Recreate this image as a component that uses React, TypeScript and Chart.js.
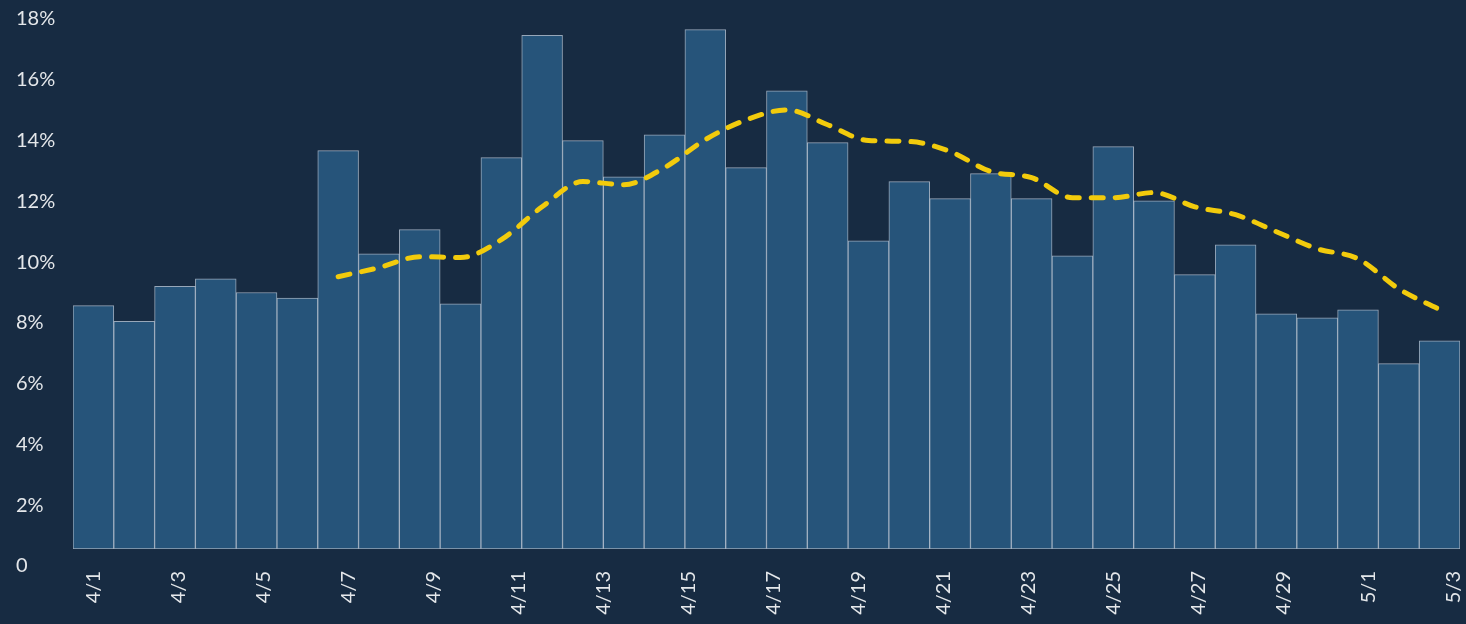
import { useEffect, useRef } from 'react';
import { Chart, registerables } from 'chart.js';

Chart.register(...registerables);

// Daily categories (one bar each)
const days: string[] = [
  '4/1', '4/2', '4/3', '4/4', '4/5', '4/6', '4/7', '4/8', '4/9', '4/10',
  '4/11', '4/12', '4/13', '4/14', '4/15', '4/16', '4/17', '4/18', '4/19', '4/20',
  '4/21', '4/22', '4/23', '4/24', '4/25', '4/26', '4/27', '4/28', '4/29', '4/30',
  '5/1', '5/2', '5/3', '5/4',
];

// Daily positivity rate (%)
const dailyRate: number[] = [
  8.01, 7.49, 8.64, 8.89, 8.44, 8.26, 13.11, 9.71, 10.51, 8.07,
  12.88, 16.9, 13.44, 12.25, 13.63, 17.09, 12.55, 15.08, 13.37, 10.14,
  12.09, 11.53, 12.35, 11.53, 9.65, 13.24, 11.46, 9.03, 10.01, 7.74,
  7.61, 7.87, 6.1, 6.85,
];

// 7-day average (%)
const sevenDayAvg: (number | null)[] = [
  null, null, null, null, null, null, 8.96, 9.26, 9.62, 9.59,
  10.18, 11.26, 12.09, 11.99, 12.55, 13.47, 14.12, 14.45, 13.96, 13.44,
  13.41, 13.08, 12.42, 12.22, 11.56, 11.56, 11.73, 11.26, 11.0, 10.44,
  9.88, 9.55, 8.56, 7.88,
];

// X tick labels (every other day) and their day index
const xTickLabels: string[] = [
  '4/1', '4/3', '4/5', '4/7', '4/9', '4/11', '4/13', '4/15', '4/17',
  '4/19', '4/21', '4/23', '4/25', '4/27', '4/29', '5/1', '5/3',
];
const xTickDay: number[] = [0, 2, 4, 6, 8, 10, 12, 14, 16, 18, 20, 22, 24, 26, 28, 30, 32];

// Y ticks (%)
const yTickValues: number[] = [0, 2, 4, 6, 8, 10, 12, 14, 16, 18];

const BG = '#172b42';
const TEXT = '#e4e7ea';
const FONT = { family: 'Lato', size: 20 };

export default function App() {
  const ref = useRef<HTMLCanvasElement | null>(null);

  useEffect(() => {
    if (!ref.current) return;
    const chart = new Chart(ref.current, {
      type: 'bar',
      data: {
        labels: days,
        datasets: [
          {
            type: 'line',
            data: sevenDayAvg,
            borderColor: '#f2cb0c',
            borderWidth: 5,
            borderDash: [12, 12],
            borderCapStyle: 'round',
            pointRadius: 0,
            cubicInterpolationMode: 'monotone',
            xAxisID: 'x',
            yAxisID: 'y',
            order: 0,
          } as any,
          {
            type: 'bar',
            data: dailyRate,
            backgroundColor: '#26547a',
            borderColor: 'rgba(195,210,225,0.75)',
            borderWidth: 1,
            borderSkipped: false,
            barPercentage: 1,
            categoryPercentage: 1,
            xAxisID: 'x',
            yAxisID: 'y',
            order: 1,
          } as any,
        ],
      },
      options: {
        animation: false,
        responsive: false,
        layout: { padding: { left: 16, top: 2, right: 6, bottom: 0 } },
        plugins: { legend: { display: false }, tooltip: { enabled: false } },
        scales: {
          x: {
            type: 'category',
            display: false,
            offset: true,
          },
          xd: {
            type: 'linear',
            position: 'bottom',
            offset: false,
            bounds: 'data',
            min: -0.494,
            max: 32.16,
            afterBuildTicks: (scale: any) => {
              scale.ticks = xTickDay.map((v) => ({ value: v }));
            },
            afterFit: (scale: any) => {
              scale.height = 75;
              scale.paddingLeft = 0;
              scale.paddingRight = 0;
            },
            ticks: {
              autoSkip: false,
              minRotation: 90,
              maxRotation: 90,
              padding: 22,
              color: TEXT,
              font: FONT,
              callback: (_v: any, i: number) => xTickLabels[i] ?? '',
            },
            grid: { display: false, drawTicks: false, offset: false },
            border: { display: false },
          },
          y: {
            type: 'linear',
            position: 'left',
            min: 0,
            max: 18,
            afterBuildTicks: (scale: any) => {
              scale.ticks = yTickValues.map((v) => ({ value: v }));
            },
            afterFit: (scale: any) => {
              scale.width = 57;
            },
            ticks: {
              align: 'start',
              crossAlign: 'far',
              labelOffset: 7,
              padding: 0,
              color: TEXT,
              font: FONT,
              callback: (v: any) => (v === 0 ? '0' : v + '%'),
            },
            grid: { display: false, drawTicks: false },
            border: { display: false },
          },
        },
      } as any,
    });
    return () => chart.destroy();
  }, []);

  return (
    <div style={{ position: 'fixed', left: 0, top: 0, width: 1466, height: 624, background: BG }}>
      <canvas ref={ref} width={1466} height={624} style={{ display: 'block' }} />
    </div>
  );
}
